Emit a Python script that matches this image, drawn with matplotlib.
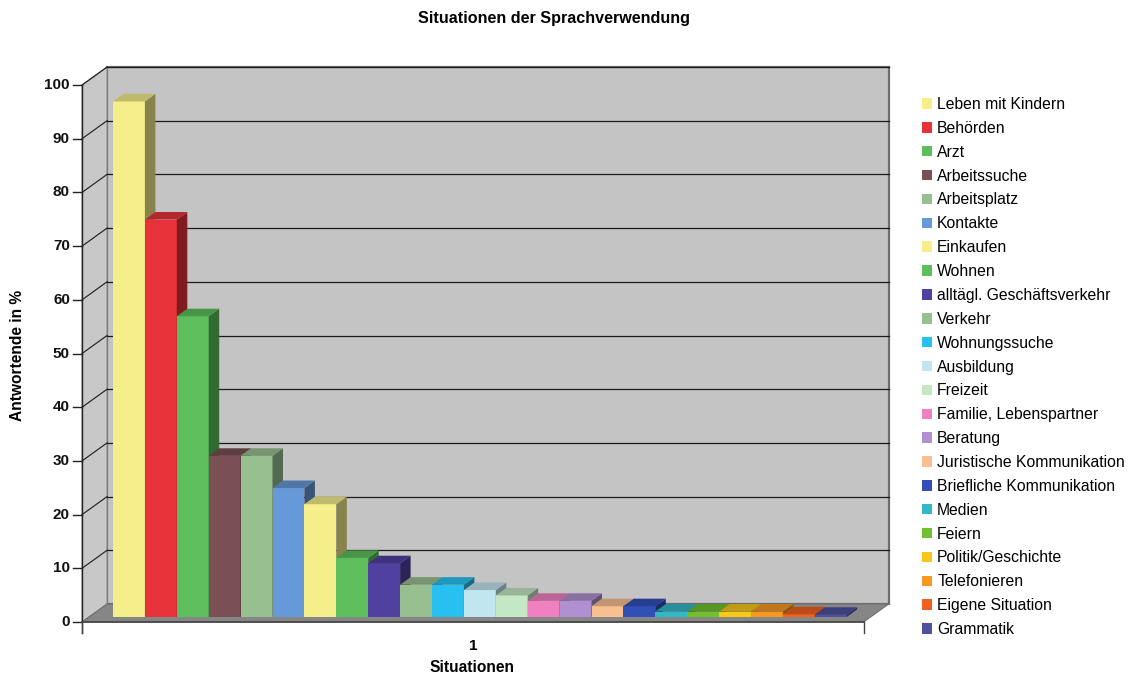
import matplotlib
matplotlib.use("Agg")
import matplotlib.pyplot as plt
from matplotlib.patches import Polygon, Patch
from matplotlib.colors import to_rgb

plt.rcParams['font.family'] = ['Liberation Sans', 'DejaVu Sans']

# --- data -------------------------------------------------------------
situations = [
    "Leben mit Kindern", "Behörden", "Arzt", "Arbeitssuche", "Arbeitsplatz",
    "Kontakte", "Einkaufen", "Wohnen", "alltägl. Geschäftsverkehr", "Verkehr",
    "Wohnungssuche", "Ausbildung", "Freizeit", "Familie, Lebenspartner",
    "Beratung", "Juristische Kommunikation", "Briefliche Kommunikation",
    "Medien", "Feiern", "Politik/Geschichte", "Telefonieren",
    "Eigene Situation", "Grammatik",
]
percent = [96, 74, 56, 30, 30, 24, 21, 11, 10, 6, 6, 5, 4, 3, 3, 2, 2,
           1, 1, 1, 1, 0.5, 0.4]
colors = [
    "#f5ee8a", "#e8323a", "#5cbf5c", "#7a5055", "#98bf90", "#6699d8",
    "#f5ee8a", "#5cbf5c", "#5040a0", "#98bf90", "#28c0f0", "#c2e6f0",
    "#c4e8c4", "#f080c0", "#b090d0", "#f8c090", "#3050b8", "#30b8c8",
    "#70c030", "#f8c818", "#f89820", "#f06020", "#5050a0",
]
yticks = [0, 10, 20, 30, 40, 50, 60, 70, 80, 90, 100]
category = "1"

# --- geometry of the pseudo-3D frame (data units) -----------------------
W, H, DPI = 11.32, 6.77, 100
BAR_PX, VAL_PX = 31.9, 5.37          # pixels per bar width / per percent
ORIGIN_PX = (106, 622)               # front plane, value 0, left of first bar
DEPTH_PX = (25, 18)                  # full depth offset of the back wall
GAP = 0.75                           # half the gap width on each side
T_FRONT, T_BACK = 0.28, 0.70         # bar depth within the box

DX = DEPTH_PX[0] / BAR_PX
DY = DEPTH_PX[1] / VAL_PX

fig = plt.figure(figsize=(W, H), dpi=DPI)
ax = fig.add_axes([0, 0, 1, 1])
ax.set_xlim(-ORIGIN_PX[0] / BAR_PX, (W * DPI - ORIGIN_PX[0]) / BAR_PX)
ax.set_ylim(-(H * DPI - ORIGIN_PX[1]) / VAL_PX, ORIGIN_PX[1] / VAL_PX)
ax.axis("off")

n = len(percent)
x0, x1 = -GAP, n + GAP
ymax = yticks[-1]


def off(x, y, t):
    return (x + t * DX, y + t * DY)


wall = "#c4c4c4"
# back wall
ax.add_patch(Polygon([off(x0, 0, 1), off(x1, 0, 1), off(x1, ymax, 1),
                      off(x0, ymax, 1)], closed=True, facecolor=wall,
                     edgecolor="#6e6e6e", lw=1.6, zorder=1))
# side wall
ax.add_patch(Polygon([off(x0, 0, 0), off(x0, 0, 1), off(x0, ymax, 1),
                      off(x0, ymax, 0)], closed=True, facecolor="#c8c8c8",
                     edgecolor="#808080", lw=0.8, zorder=1))
# floor
ax.add_patch(Polygon([off(x0, 0, 0), off(x1, 0, 0), off(x1, 0, 1),
                      off(x0, 0, 1)], closed=True, facecolor="#868686",
                     edgecolor="#6e6e6e", lw=0.8, zorder=2))

# gridlines on back and side wall
for v in yticks[1:]:
    bx, by = off(x0, v, 1)
    ex, ey = off(x1, v, 1)
    ax.plot([bx, ex], [by, ey], color="#1a1a1a", lw=0.9, zorder=2)
    fx, fy = off(x0, v, 0)
    ax.plot([fx, bx], [fy, by], color="#1a1a1a", lw=0.8, zorder=2)

# value axis with ticks and labels
tick_len = 9 / BAR_PX
ax.plot([x0, x0], [-2, ymax], color="#222222", lw=1.0, zorder=3)
for v in yticks:
    ax.plot([x0 - tick_len, x0], [v, v], color="#222222", lw=1.0, zorder=3)
    ax.text(x0 - tick_len - 0.1, v, str(v), ha="right", va="center",
            fontsize=11, fontweight="bold", color="#111111")

# category axis
ax.plot([x0, x1], [0, 0], color="#444444", lw=1.2, zorder=3)
for xe in (x0, x1):
    ax.plot([xe, xe], [0, -2], color="#444444", lw=1.0, zorder=3)
ax.text((x0 + x1) / 2, -4.4, category, ha="center", va="center",
        fontsize=11, fontweight="bold")


def shade(c, k):
    r, g, b = to_rgb(c)
    return (r * k, g * k, b * k)


# bars, drawn left to right so each front face hides its neighbour's side
bdx = (T_BACK - T_FRONT) * DX
bdy = (T_BACK - T_FRONT) * DY
base = T_FRONT * DY
for i, (v, c) in enumerate(zip(percent, colors)):
    left = i + T_FRONT * DX
    ax.bar(left, v, width=1.0, bottom=base, align="edge", color=c,
           edgecolor="none", zorder=5 + i)
    top = base + v
    ax.add_patch(Polygon([(left + 1, base), (left + 1 + bdx, base + bdy),
                          (left + 1 + bdx, top + bdy), (left + 1, top)],
                         closed=True, facecolor=shade(c, 0.55),
                         edgecolor="none", zorder=5 + i))
    ax.add_patch(Polygon([(left, top), (left + 1, top),
                          (left + 1 + bdx, top + bdy), (left + bdx, top + bdy)],
                         closed=True, facecolor=shade(c, 0.78),
                         edgecolor="none", zorder=5 + i))

# titles
fig.text(554 / (W * DPI), 1 - 18 / (H * DPI), "Situationen der Sprachverwendung",
         ha="center", va="center", fontsize=11.6, fontweight="bold")
fig.text(18 / (W * DPI), 1 - 355 / (H * DPI), "Antwortende in %", rotation=90,
         ha="center", va="center", fontsize=11.2, fontweight="bold")
fig.text(472 / (W * DPI), 1 - 667 / (H * DPI), "Situationen",
         ha="center", va="center", fontsize=11.2, fontweight="bold")

# legend
handles = [Patch(facecolor=c, edgecolor="none") for c in colors]
fig.legend(handles, situations, loc="upper left",
           bbox_to_anchor=(922 / (W * DPI), 1 - 97 / (H * DPI)),
           frameon=False, fontsize=11.3, handlelength=0.65, handleheight=0.65,
           handletextpad=0.32, labelspacing=0.565, borderaxespad=0,
           borderpad=0)

fig.savefig("out.png", dpi=DPI, facecolor="white")
